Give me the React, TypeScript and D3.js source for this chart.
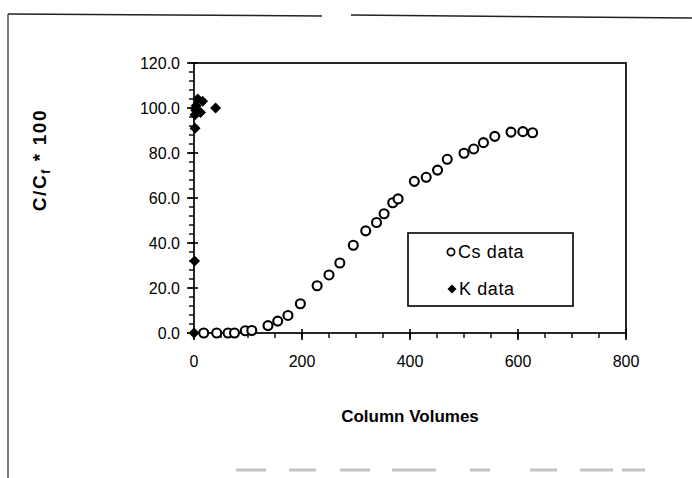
import React from "react";
import * as d3 from "d3";

const csVolumes = [18, 42, 63, 75, 95, 107, 137, 155, 174, 197, 228, 250, 270, 295, 318, 338, 352, 368, 378, 408, 430, 451, 469, 500, 518, 536, 557, 587, 609, 627];
const csValues = [0, 0, 0, 0, 1, 1.1, 3.3, 5.3, 7.8, 13, 21, 25.8, 31.1, 39, 45.4, 49.1, 53, 57.9, 59.6, 67.4, 69.2, 72.4, 77.2, 79.9, 81.8, 84.6, 87.4, 89.3, 89.5, 89];
const kVolumes = [0, 1, 2, 2, 4, 7, 16, 12, 3, 40];
const kValues = [0, 32, 91, 97, 101, 104, 103, 98, 99, 100];
const xTicks = [0, 200, 400, 600, 800];
const xMinor = d3.range(0, 801, 50);
const yTicks = [0, 20, 40, 60, 80, 100, 120];
const yMinor = d3.range(0, 121, 4);
const legendLabels = ["Cs data", "K data"];

const FONT = "'Liberation Sans', Arial, sans-serif";

function diamondPath(r: number) {
  const p = d3.path();
  p.moveTo(0, -r);
  p.lineTo(r, 0);
  p.lineTo(0, r);
  p.lineTo(-r, 0);
  p.closePath();
  return p.toString();
}

export default function App() {
  const x = d3.scaleLinear().domain([0, 800]).range([194, 626]);
  const y = d3.scaleLinear().domain([0, 120]).range([333, 63]);
  const left = x(0), right = x(800), top = y(120), bottom = y(0);
  const dia = diamondPath(5.5);

  return (
    <svg width={692} height={478} style={{ position: "absolute", left: 0, top: 0, background: "#fff" }}>
      {/* outer scanned frame */}
      <line x1={8} y1={14} x2={322} y2={16} stroke="#222" strokeWidth={1.5} />
      <line x1={351} y1={15} x2={692} y2={18} stroke="#222" strokeWidth={1.5} />
      <line x1={8} y1={14} x2={8} y2={478} stroke="#222" strokeWidth={1.2} />
      {[[236, 266], [289, 316], [340, 370], [392, 436], [470, 490], [530, 557], [580, 613], [622, 645]].map(([a, b], i) => (
        <line key={i} x1={a} x2={b} y1={470} y2={470} stroke="#c4c4c4" strokeWidth={3} />
      ))}

      {/* plot frame */}
      <rect x={left} y={top} width={right - left} height={bottom - top} fill="none" stroke="#000" strokeWidth={1.7} />

      {/* x ticks */}
      {xMinor.map((t) => (
        <line key={"xm" + t} x1={x(t)} x2={x(t)} y1={bottom} y2={bottom + 5} stroke="#000" strokeWidth={1.4} />
      ))}
      {xTicks.map((t) => (
        <g key={"x" + t}>
          <line x1={x(t)} x2={x(t)} y1={bottom - 4} y2={bottom + 7} stroke="#000" strokeWidth={1.6} />
          <text x={x(t)} y={bottom + 34} textAnchor="middle" fontFamily={FONT} fontSize={16} fill="#000">
            {t}
          </text>
        </g>
      ))}

      {/* y ticks */}
      {yMinor.map((t) => (
        <line key={"ym" + t} x1={left - 5} x2={left} y1={y(t)} y2={y(t)} stroke="#000" strokeWidth={1.4} />
      ))}
      {yTicks.map((t) => (
        <g key={"y" + t}>
          <line x1={left - 7} x2={left + 4} y1={y(t)} y2={y(t)} stroke="#000" strokeWidth={1.6} />
          <text x={left - 14} y={y(t)} dy="0.35em" textAnchor="end" fontFamily={FONT} fontSize={16} fill="#000">
            {t.toFixed(1)}
          </text>
        </g>
      ))}

      {/* axis titles */}
      <text x={410} y={422} textAnchor="middle" fontFamily={FONT} fontSize={17} fontWeight="bold" fill="#000">
        Column Volumes
      </text>
      <text transform="translate(46,160) rotate(-90)" textAnchor="middle" fontFamily={FONT} fontSize={19} fontWeight="bold" letterSpacing={1.6} fill="#000">
        C/C<tspan fontSize={12} dy={4}>f</tspan>
        <tspan dy={-4}> * 100</tspan>
      </text>

      {/* K data */}
      {kVolumes.map((v, i) => (
        <path key={"k" + i} d={dia} transform={`translate(${x(v)},${y(kValues[i])})`} fill="#000" />
      ))}

      {/* Cs data */}
      {csVolumes.map((v, i) => (
        <circle key={"c" + i} cx={x(v)} cy={y(csValues[i])} r={4.5} fill="#fff" stroke="#000" strokeWidth={2.1} />
      ))}

      {/* legend */}
      <rect x={408} y={233} width={165} height={73} fill="#fff" stroke="#000" strokeWidth={1.6} />
      <circle cx={451} cy={252} r={3.6} fill="none" stroke="#000" strokeWidth={1.7} />
      <text x={458} y={258} fontFamily={FONT} fontSize={18} letterSpacing={0.6} fill="#000">{legendLabels[0]}</text>
      <path d={diamondPath(4.5)} transform="translate(452,289)" fill="#000" />
      <text x={459} y={295} fontFamily={FONT} fontSize={18} letterSpacing={0.6} fill="#000">{legendLabels[1]}</text>
    </svg>
  );
}
